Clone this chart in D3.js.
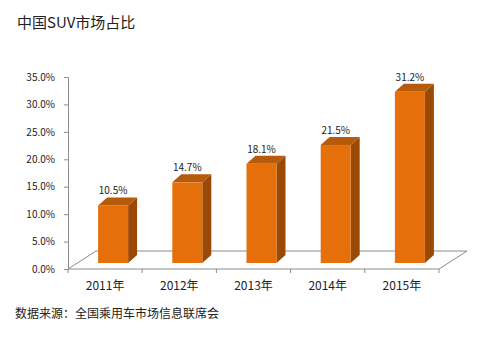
<!DOCTYPE html>
<html>
<head>
<meta charset="utf-8">
<script src="https://cdn.jsdelivr.net/npm/d3@7/dist/d3.min.js"></script>
<style>
  html, body { margin: 0; padding: 0; background: #fff; }
  svg { display: block; }
  text { font-family: "Noto Sans CJK SC", "Noto Sans", sans-serif; fill: #222; }
</style>
</head>
<body>
<script>
// SUV share of China's passenger car market, 2011–2015
const years = ["2011年", "2012年", "2013年", "2014年", "2015年"];
const shares = [10.5, 14.7, 18.1, 21.5, 31.2];
const yTicks = [0, 5, 10, 15, 20, 25, 30, 35];
const title = "中国SUV市场占比";
const source = "数据来源：全国乘用车市场信息联席会";

const W = 479, H = 341;
const svg = d3.select("body").append("svg").attr("width", W).attr("height", H);

const x = d3.scaleBand().domain(years).range([68, 439]).padding(0);
const y = d3.scaleLinear().domain([0, 35]).range([269, 77]);

// floor depth, bar placement inside the depth and bar thickness
const floorDX = 28, floorDY = -18;
const barOffX = 8, barOffY = -6;
const barDX = 9, barDY = -8;
const barW = 30;

const axisColor = "#8c8c8c";

// title
svg.append("text").attr("x", 17).attr("y", 28)
  .attr("font-size", 15).text(title);

// floor
const [x0, x1] = x.range();
const y0 = y(0);
svg.append("path")
  .attr("d", `M${x0},${y0}L${x1},${y0}L${x1 + floorDX},${y0 + floorDY}L${x0 + floorDX},${y0 + floorDY}Z`)
  .attr("fill", "#fff").attr("stroke", axisColor).attr("stroke-width", 1);

// value axis
const yAxis = svg.append("g").attr("transform", `translate(${x0},0)`)
  .call(d3.axisLeft(y).tickValues(yTicks).tickSize(4).tickPadding(9)
    .tickFormat(d => d.toFixed(1) + "%"));
yAxis.select(".domain").attr("stroke", axisColor);
yAxis.selectAll(".tick line").attr("stroke", axisColor);
yAxis.selectAll(".tick text").attr("font-size", 10)
  .attr("font-family", "\"Noto Sans CJK SC\", sans-serif").attr("fill", "#222");

// category axis: boundary ticks and labels
const boundaries = d3.range(years.length + 1).map(i => x0 + i * x.step());
svg.append("g").selectAll("line").data(boundaries).join("line")
  .attr("x1", d => d).attr("x2", d => d)
  .attr("y1", y0).attr("y2", y0 + 4)
  .attr("stroke", axisColor);
svg.append("g").selectAll("text").data(years).join("text")
  .attr("x", d => x(d) + x.bandwidth() / 2)
  .attr("y", 290)
  .attr("text-anchor", "middle")
  .attr("font-size", 12)
  .text(d => d);

// 3D bars
const data = years.map((k, i) => ({ year: k, value: shares[i] }));
const bars = svg.append("g").selectAll("g").data(data).join("g");

function geom(d) {
  const cx = x(d.year) + x.bandwidth() / 2 + barOffX;
  const left = cx - barW / 2, right = cx + barW / 2;
  const bottom = y0 + barOffY;
  const top = y(d.value) + barOffY;
  return { left, right, bottom, top, cx };
}

// side face
bars.append("path")
  .attr("d", d => {
    const g = geom(d);
    return `M${g.right},${g.bottom}L${g.right + barDX},${g.bottom + barDY}L${g.right + barDX},${g.top + barDY}L${g.right},${g.top}Z`;
  })
  .attr("fill", "#9b4a06");
// top face
bars.append("path")
  .attr("d", d => {
    const g = geom(d);
    return `M${g.left},${g.top}L${g.left + barDX},${g.top + barDY}L${g.right + barDX},${g.top + barDY}L${g.right},${g.top}Z`;
  })
  .attr("fill", "#b65a0c");
// front face
bars.append("rect")
  .attr("x", d => geom(d).left)
  .attr("y", d => geom(d).top)
  .attr("width", barW)
  .attr("height", d => geom(d).bottom - geom(d).top)
  .attr("fill", "#e46f0b");

// value labels
bars.append("text")
  .attr("x", d => geom(d).cx)
  .attr("y", d => geom(d).top + barDY - 3)
  .attr("text-anchor", "middle")
  .attr("font-size", 10)
  .text(d => d.value.toFixed(1) + "%");

// source note
svg.append("text").attr("x", 15).attr("y", 318)
  .attr("font-size", 12).text(source);
</script>
</body>
</html>
